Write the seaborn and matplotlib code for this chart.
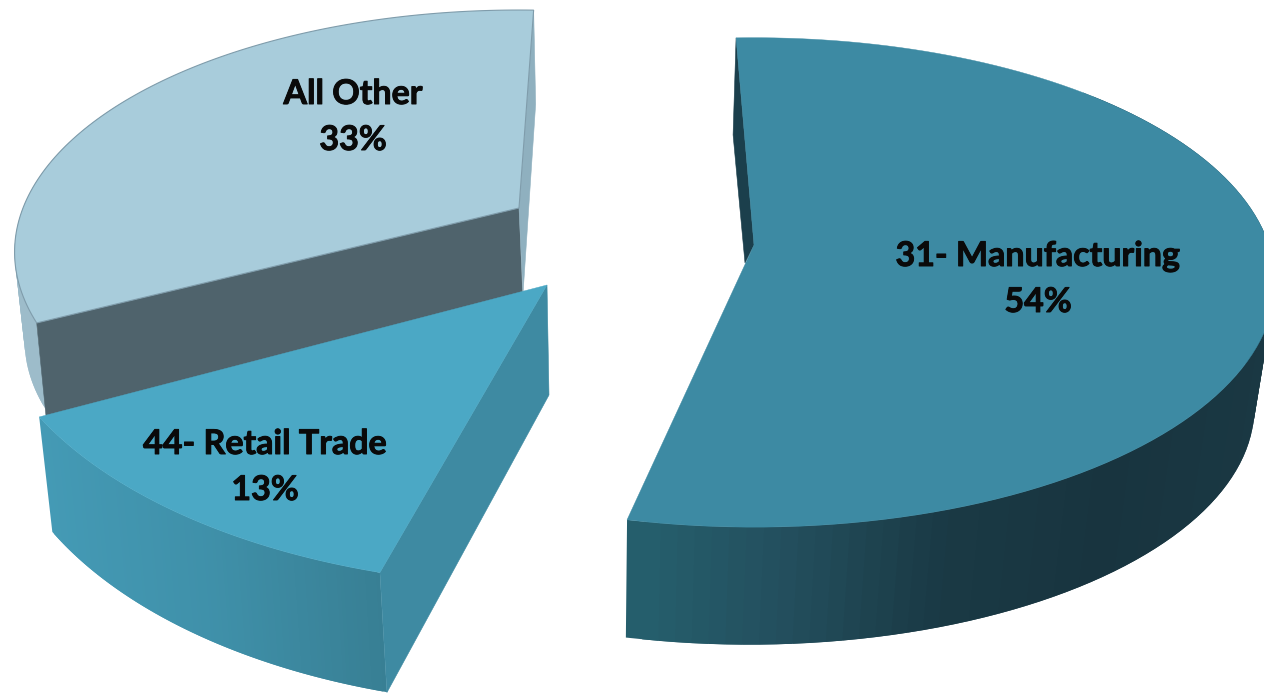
import numpy as np
import matplotlib
matplotlib.use('Agg')
import matplotlib.pyplot as plt
import matplotlib.patheffects as pe
import seaborn as sns

# chart values
categories = ['31- Manufacturing', '44- Retail Trade', 'All Other']
shares = [54, 13, 33]

sns.set_theme(style='white')
plt.rcParams['font.family'] = ['Lato', 'DejaVu Sans']

# how each slice sits on the canvas (pixels), drawn back to front
# apex, radii, perspective, first angle, shift and scale of the lower rim
# side colours run left to right, wall = angles where the outer wall shows
layout = {
    'All Other': dict(apex=(519, 208), rx=496, ry=234, p=.182, start=243.2,
                      shift=(5, 89), k=(.99, .99), top='#a8ccdb',
                      side=['#9dbcca', '#a3c1ce'], edge='#7f9cab', wall=(240, 300),
                      faces=[(0, (10, 100), (4, 100), '#4f636c'),
                             (1, (2, 94), (4, 86), '#8fb0bf')],
                      text=(353, 94)),
    '31- Manufacturing': dict(apex=(754, 245), rx=515, ry=239, p=.153, start=-2.3,
                              shift=(-5, 126), k=(.97, .97), top='#3d8aa3',
                              side=['#26616f', '#234f5e', '#1a3a45', '#18343f', '#1a3843'],
                              edge=None, wall=(45, 200),
                              faces=[(0, (-3, 97), (-9, 18), '#1b3f4c')],
                              text=(1038, 256)),
    '44- Retail Trade': dict(apex=(547, 285), rx=565, ry=301, p=0, start=197.2,
                             shift=(4, 111), k=(.982, 1.03), top='#4ba8c5',
                             side=['#449ab5', '#3f90a9', '#387f94'], edge=None, wall=(190, 250),
                             faces=[(0, (7, 120), (2, 110), '#3e8aa2')],
                             text=(265, 444)),
}
draw_order = ['All Other', '31- Manufacturing', '44- Retail Trade']
N = 120


def rim(s, angles):
    t = np.radians(angles)
    d = 1 + s['p'] * np.cos(t)
    return s['rx'] * np.sin(t) / d, -s['ry'] * np.cos(t) / d


fig = plt.figure(figsize=(12.64, 6.93), dpi=100)
ax = fig.add_axes([0, 0, 1, 1])
ax.set_xlim(0, 1264)
ax.set_ylim(693, 0)
ax.axis('off')

stroke = [pe.withStroke(linewidth=.7, foreground='#0a0a0a')]

for name in draw_order:
    s = layout[name]
    share = shares[categories.index(name)]
    ang = np.linspace(s['start'], s['start'] + share * 3.6, N)
    ax0, ay0 = s['apex']
    x, y = rim(s, ang)
    tx, ty = ax0 + x, ay0 + y
    bx = ax0 + s['shift'][0] + s['k'][0] * x
    by = ay0 + s['shift'][1] + s['k'][1] * y

    # outer wall, strips overlap by one step so no seams show
    pal = sns.blend_palette(s['side'], N)
    frac = (tx - tx.min()) / (tx.max() - tx.min())
    for i in range(N - 2):
        if ang[i] < s['wall'][0] or ang[i] > s['wall'][1]:
            continue
        ax.fill([tx[i], tx[i + 2], bx[i + 2], bx[i]], [ty[i], ty[i + 2], by[i + 2], by[i]],
                color=pal[int(frac[i] * (N - 1))], lw=0, zorder=1)

    # flat cut faces
    for end, off_rim, off_apex, col in s['faces']:
        j = 0 if end == 0 else -1
        ax.fill([tx[j], tx[j] + off_rim[0], ax0 + off_apex[0], ax0],
                [ty[j], ty[j] + off_rim[1], ay0 + off_apex[1], ay0],
                color=col, lw=.4, zorder=1)

    # top of the slice
    ax.fill(np.r_[ax0, tx], np.r_[ay0, ty], facecolor=s['top'], edgecolor=s['edge'] or s['top'],
            lw=.8 if s['edge'] else .3, zorder=1)

    lx, ly = s['text']
    ax.text(lx, ly, name, ha='center', va='center', fontsize=24.5, fontweight='bold',
            color='#0a0a0a', zorder=5, path_effects=stroke)
    ax.text(lx, ly + 46, str(share) + '%', ha='center', va='center', fontsize=24.5,
            fontweight='bold', color='#0a0a0a', zorder=5, path_effects=stroke)

fig.savefig('out.png', dpi=100)
